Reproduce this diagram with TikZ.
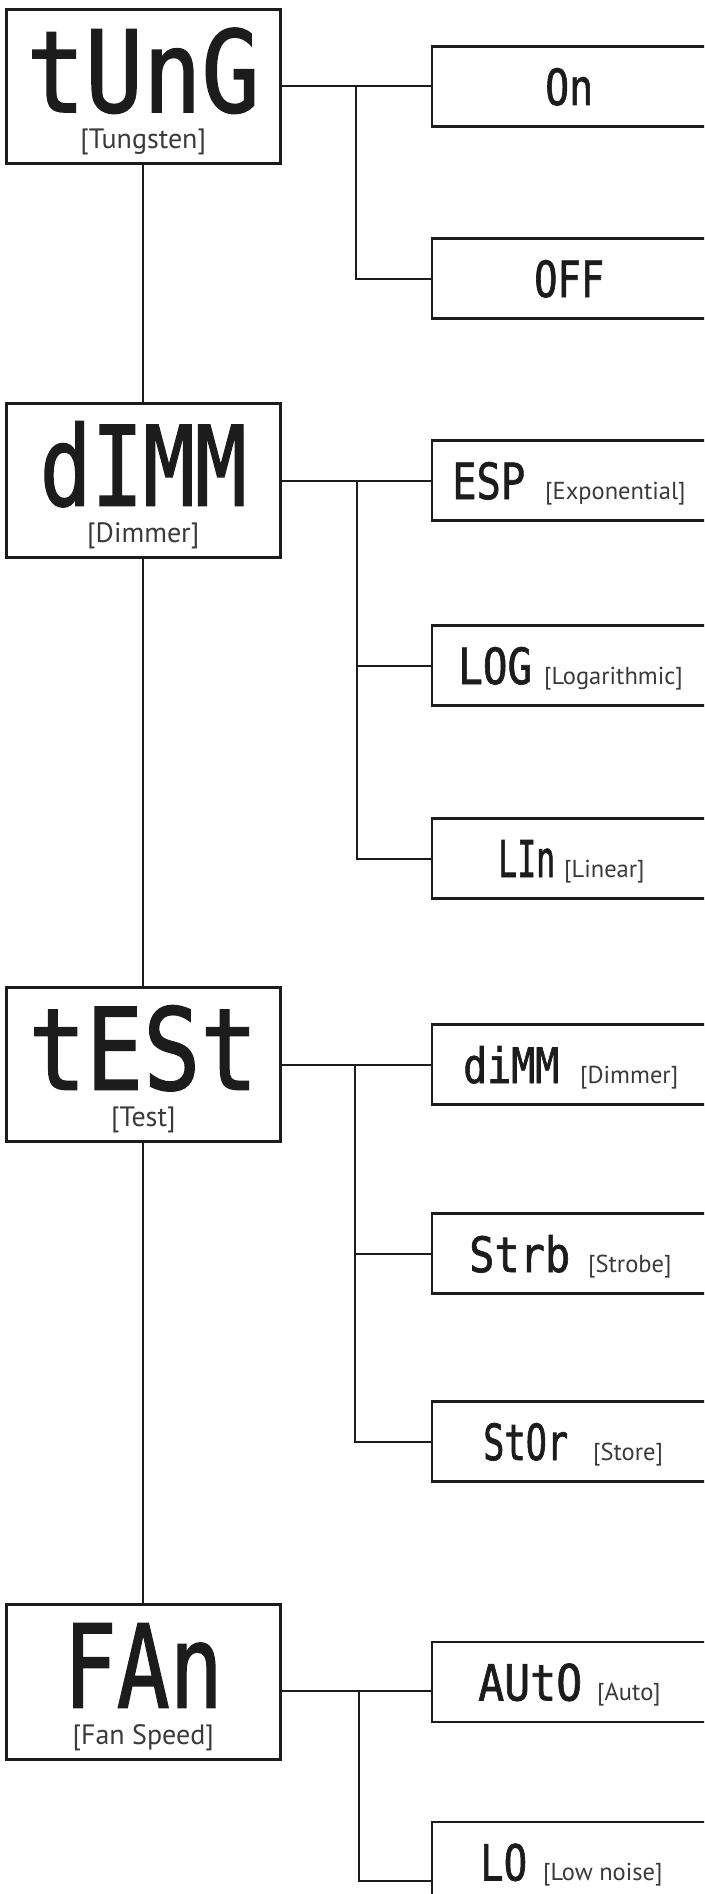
\documentclass[tikz,border=0pt]{standalone}
\usepackage{fontspec}
\usepackage{graphicx}
\setmainfont{PT Sans}
\newfontfamily\lcdfont[FakeBold=1.5]{DejaVu Sans Mono}
\definecolor{ink}{HTML}{1C1C1C}
\definecolor{captxt}{HTML}{3A3A3A}
\newcommand{\lcdtxt}[3]{\resizebox{#1pt}{#2pt}{\lcdfont #3}}
\tikzset{
  mainbox/.style={draw=ink, line width=3pt, minimum width=273.5pt, minimum height=154.5pt, inner sep=0pt, outer sep=0pt},
  subbox/.style={draw=ink, line width=2.3pt, minimum width=290pt, minimum height=80pt, inner sep=0pt, outer sep=0pt},
  wire/.style={draw=ink, line width=2pt},
  maincode/.style={anchor=base, inner sep=0pt, text=ink},
  maincap/.style={anchor=base, inner sep=0pt, text=captxt, font=\fontsize{28}{28}\selectfont},
  subcode/.style={anchor=base west, inner sep=0pt, text=ink},
  subcap/.style={anchor=base west, inner sep=0pt, text=captxt, font=\fontsize{24.5}{24.5}\selectfont}
}
\begin{document}
\begin{tikzpicture}[x=1pt,y=-1pt]
\path[use as bounding box] (0,0) rectangle (704,1894);
\clip (0,0) rectangle (704,1894);
\fill[white] (0,0) rectangle (704,1894);

% main boxes
\node[mainbox] (tung) at (143.25,86.5) {};
\node[maincode] (tungc) at (143.25,112) {\lcdtxt{233}{84}{tUnG}};
\node[maincap] (tungl) at (143.25,149) {[Tungsten]};

\node[mainbox] (dimm) at (143.25,480.5) {};
\node[maincode] (dimmcd) at (143.25,505.5) {\lcdtxt{207}{84}{dIMM}};
\node[maincap] (dimml) at (143.25,542.5) {[Dimmer]};

\node[mainbox] (test) at (143.25,1064.5) {};
\node[maincode] (testc) at (143.25,1089.5) {\lcdtxt{229}{84}{tESt}};
\node[maincap] (testl) at (143.25,1126.5) {[Test]};

\node[mainbox] (fan) at (143.25,1682) {};
\node[maincode] (fanc) at (143.25,1707.5) {\lcdtxt{159}{84}{FAn}};
\node[maincap] (fanl) at (143.25,1744.5) {[Fan Speed]};

% option boxes
\node[subbox] (on) at (577,86.5) {};
\node[subcode] (onc) at (545,105) {\lcdtxt{48}{37}{On}};

\node[subbox] (off) at (577,278.5) {};
\node[subcode] (offc) at (534,297) {\lcdtxt{70}{37}{OFF}};

\node[subbox] (esp) at (577,480.5) {};
\node[subcode] (espc) at (452,499) {\lcdtxt{73}{37}{ESP}};
\node[subcap] (espl) at (545,499) {[Exponential]};

\node[subbox] (log) at (577,665.5) {};
\node[subcode] (logc) at (458,684) {\lcdtxt{74}{37}{LOG}};
\node[subcap] (logl) at (544,684) {[Logarithmic]};

\node[subbox] (lin) at (577,858.5) {};
\node[subcode] (linc) at (498,877) {\lcdtxt{57}{37}{LIn}};
\node[subcap] (linl) at (564,877) {[Linear]};

\node[subbox] (dimmc) at (577,1064.5) {};
\node[subcode] (dimmcc) at (463,1083) {\lcdtxt{96}{37}{diMM}};
\node[subcap] (dimmcl) at (580,1083) {[Dimmer]};

\node[subbox] (strb) at (577,1253.5) {};
\node[subcode] (strbc) at (469,1272) {\lcdtxt{101}{37}{Strb}};
\node[subcap] (strbl) at (588,1272) {[Strobe]};

\node[subbox] (stor) at (577,1441.5) {};
\node[subcode] (storc) at (483,1460) {\lcdtxt{85}{37}{StOr}};
\node[subcap] (storl) at (593,1460) {[Store]};

\node[subbox] (auto) at (577,1682) {};
\node[subcode] (autoc) at (478,1700.5) {\lcdtxt{104}{37}{AUtO}};
\node[subcap] (autol) at (597,1700.5) {[Auto]};

\node[subbox] (lo) at (577,1862) {};
\node[subcode] (loc) at (480,1880.5) {\lcdtxt{47}{37}{LO}};
\node[subcap] (lol) at (543,1880.5) {[Low noise]};

% main spine
\draw[wire] (tung.south) -- (dimm.north);
\draw[wire] (dimm.south) -- (test.north);
\draw[wire] (test.south) -- (fan.north);

% branches
\coordinate (b1) at (356,86.5);
\draw[wire] (tung.east) -- (on.west);
\draw[wire] (b1) |- (off.west);

\coordinate (b2) at (357,480.5);
\draw[wire] (dimm.east) -- (esp.west);
\draw[wire] (b2) |- (log.west);
\draw[wire] (b2) |- (lin.west);

\coordinate (b3) at (355,1064.5);
\draw[wire] (test.east) -- (dimmc.west);
\draw[wire] (b3) |- (strb.west);
\draw[wire] (b3) |- (stor.west);

\coordinate (b4) at (359,1691);
\coordinate (b5) at (359,1881);
\draw[wire] (fan.east |- b4) -- (auto.west |- b4);
\draw[wire] (b4) -- (b5) -- (lo.west |- b5);
\end{tikzpicture}
\end{document}
